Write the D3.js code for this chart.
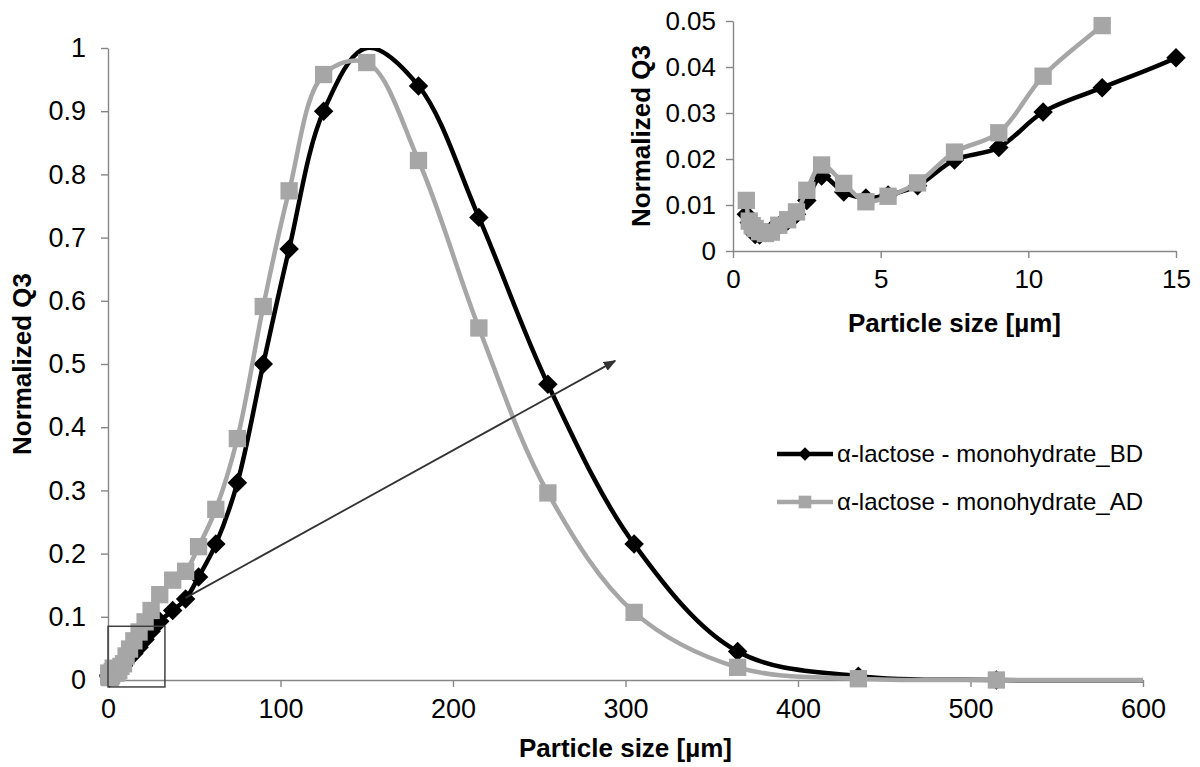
<!DOCTYPE html>
<html>
<head>
<meta charset="utf-8">
<script src="https://cdn.jsdelivr.net/npm/d3@7"></script>
<style>
  body { margin: 0; background: #fff; }
  svg text { font-family: "Liberation Sans", Arial, sans-serif; fill: #000; }
</style>
</head>
<body>
<div id="chart"></div>
<script>
// particle size classes [µm]
const sizes = [0.45, 0.55, 0.65, 0.75, 0.9, 1.1, 1.3, 1.55, 1.85, 2.15,
  2.5, 3.0, 3.75, 4.5, 5.25, 6.25, 7.5, 9, 10.5, 12.5,
  15, 18, 21.5, 25, 30, 37.5, 45, 52.5, 62.5, 75,
  90, 105, 125, 150, 180, 215, 255, 305, 365, 435, 515, 615];

// normalized Q3, before (BD) and after (AD)
const bd = [0.008, 0.0062, 0.005, 0.0036, 0.0035, 0.004, 0.0046, 0.0055, 0.0065, 0.008,
  0.011, 0.0163, 0.0128, 0.0115, 0.0122, 0.0142, 0.0198, 0.0225, 0.0302, 0.0355,
  0.042, 0.052, 0.064, 0.077, 0.093, 0.11, 0.128, 0.163, 0.215, 0.312,
  0.50, 0.682, 0.90, 1.0, 0.94, 0.732, 0.468, 0.215, 0.045, 0.006, 0.0, 0.0];
const ad = [0.011, 0.0065, 0.0055, 0.0049, 0.0042, 0.0038, 0.0041, 0.0056, 0.0068, 0.0085,
  0.0132, 0.0187, 0.0147, 0.0107, 0.0119, 0.0148, 0.0215, 0.0257, 0.038, 0.049,
  0.062, 0.076, 0.092, 0.11, 0.135, 0.158, 0.172, 0.211, 0.27, 0.382,
  0.591, 0.774, 0.958, 0.977, 0.822, 0.557, 0.296, 0.107, 0.02, 0.002, 0.0, 0.0];

const seriesNames = ["α-lactose - monohydrate_BD", "α-lactose - monohydrate_AD"];

const mainXTicks = [0, 100, 200, 300, 400, 500, 600];
const mainYTicks = [0, 0.1, 0.2, 0.3, 0.4, 0.5, 0.6, 0.7, 0.8, 0.9, 1];
const insetXTicks = [0, 5, 10, 15];
const insetYTicks = [0, 0.01, 0.02, 0.03, 0.04, 0.05];

// zoom box and arrow, in main-chart units
const zoomBox = [[0, 0.085], [33, -0.011]];
const arrowPts = [[45, 0.13], [294, 0.505]];

const width = 1200, height = 767;
const axisColor = "#868686";
const bdColor = "#000000", adColor = "#a6a6a6";

const svg = d3.select("#chart").append("svg")
  .attr("width", width)
  .attr("height", height);

const defs = svg.append("defs");
defs.append("marker")
  .attr("id", "arrowhead")
  .attr("viewBox", "0 0 10 10")
  .attr("refX", 9).attr("refY", 5)
  .attr("markerWidth", 7).attr("markerHeight", 7)
  .attr("markerUnits", "strokeWidth")
  .attr("orient", "auto")
  .append("path")
  .attr("d", "M0,1 L10,5 L0,9 Z")
  .attr("fill", "#333");

const series = [
  { name: seriesNames[0], values: bd, color: bdColor, shape: "diamond" },
  { name: seriesNames[1], values: ad, color: adColor, shape: "square" }
];

function markerPath(shape) {
  return shape === "diamond"
    ? d3.symbol(d3.symbolSquare, 190)()
    : d3.symbol(d3.symbolSquare, 300)();
}

function drawChart(g, opts) {
  const { x, y, xTicks, yTicks, yFmt, clipId, lineWidth } = opts;
  const [x0, x1] = x.range();
  const [y0, y1] = y.range();

  // axes
  const xAxis = d3.axisBottom(x).tickValues(xTicks).tickSizeInner(7).tickSizeOuter(0).tickPadding(opts.xPad);
  const yAxis = d3.axisLeft(y).tickValues(yTicks).tickSizeInner(7).tickSizeOuter(0).tickPadding(opts.yPad).tickFormat(yFmt);

  const gx = g.append("g").attr("transform", `translate(0,${y0})`).call(xAxis);
  const gy = g.append("g").attr("transform", `translate(${x0},0)`).call(yAxis);
  [gx, gy].forEach(a => {
    a.select(".domain").attr("stroke", axisColor).attr("stroke-width", 1.4);
    a.selectAll(".tick line").attr("stroke", axisColor).attr("stroke-width", 1.4);
    a.selectAll(".tick text").style("font-size", opts.tickFont + "px").attr("fill", "#000");
  });

  // clip for lines
  defs.append("clipPath").attr("id", clipId)
    .append("rect")
    .attr("x", x0 - 30).attr("y", y1)
    .attr("width", x1 - x0 + 30).attr("height", y0 - y1 + 30);

  const line = d3.line()
    .x((d, i) => x(sizes[i]))
    .y(d => y(d))
    .curve(d3.curveCatmullRom.alpha(0.5));

  const xMax = x.domain()[1], yMax = y.domain()[1];

  series.forEach(s => {
    g.append("path")
      .datum(s.values)
      .attr("clip-path", `url(#${clipId})`)
      .attr("fill", "none")
      .attr("stroke", s.color)
      .attr("stroke-width", lineWidth)
      .attr("stroke-linejoin", "round")
      .attr("d", line);

    // markers on the top edge or outside the plot are not drawn
    const pts = s.values.map((v, i) => ({ sx: sizes[i], v }))
      .filter(p => p.sx <= xMax && p.v < yMax);
    g.append("g").selectAll("path")
      .data(pts)
      .join("path")
      .attr("d", markerPath(s.shape))
      .attr("transform", p => `translate(${x(p.sx)},${y(p.v)})` + (s.shape === "diamond" ? " rotate(45)" : ""))
      .attr("fill", s.color);
  });

  // axis titles
  g.append("text")
    .attr("x", (x0 + x1) / 2).attr("y", opts.xTitleY)
    .attr("text-anchor", "middle")
    .style("font-size", "26px").style("font-weight", "bold")
    .text("Particle size [µm]");
  g.append("text")
    .attr("transform", `translate(${opts.yTitleX},${(y0 + y1) / 2}) rotate(-90)`)
    .attr("text-anchor", "middle")
    .style("font-size", "26px").style("font-weight", "bold")
    .text("Normalized Q3");
}

// main chart
const xMain = d3.scaleLinear().domain([0, 600]).range([108, 1143]);
const yMain = d3.scaleLinear().domain([0, 1]).range([680, 48]);
const gMain = svg.append("g");
drawChart(gMain, {
  x: xMain, y: yMain, xTicks: mainXTicks, yTicks: mainYTicks,
  yFmt: d3.format(".1~f"), clipId: "clipMain", lineWidth: 4.5,
  xPad: 12, yPad: 15, tickFont: 27, xTitleY: 757, yTitleX: 31
});

// legend
const legend = svg.append("g").attr("transform", "translate(777,454)");
series.forEach((s, i) => {
  const row = legend.append("g").attr("transform", `translate(0,${i * 48})`);
  row.append("line").attr("x1", 0).attr("x2", 56).attr("y1", 0).attr("y2", 0)
    .attr("stroke", s.color).attr("stroke-width", 4.5);
  row.append("path")
    .attr("d", s.shape === "diamond" ? d3.symbol(d3.symbolSquare, 90)() : d3.symbol(d3.symbolSquare, 160)())
    .attr("transform", "translate(28,0)" + (s.shape === "diamond" ? " rotate(45)" : ""))
    .attr("fill", s.color);
  row.append("text").attr("x", 60).attr("y", 0).attr("dy", "0.35em")
    .style("font-size", "24px")
    .text(s.name);
});

// zoom box + arrow
svg.append("rect")
  .attr("x", xMain(zoomBox[0][0])).attr("y", yMain(zoomBox[0][1]))
  .attr("width", xMain(zoomBox[1][0]) - xMain(zoomBox[0][0]))
  .attr("height", yMain(zoomBox[1][1]) - yMain(zoomBox[0][1]))
  .attr("fill", "none").attr("stroke", "#404040").attr("stroke-width", 1.5);

svg.append("line")
  .attr("x1", xMain(arrowPts[0][0])).attr("y1", yMain(arrowPts[0][1]))
  .attr("x2", xMain(arrowPts[1][0])).attr("y2", yMain(arrowPts[1][1]))
  .attr("stroke", "#333").attr("stroke-width", 1.8)
  .attr("marker-end", "url(#arrowhead)");

// inset chart
const xInset = d3.scaleLinear().domain([0, 15]).range([733, 1176]);
const yInset = d3.scaleLinear().domain([0, 0.05]).range([251, 21]);
const gInset = svg.append("g");
drawChart(gInset, {
  x: xInset, y: yInset, xTicks: insetXTicks, yTicks: insetYTicks,
  yFmt: d3.format(".2~f"), clipId: "clipInset", lineWidth: 4.5,
  xPad: 12, yPad: 10, tickFont: 26, xTitleY: 332, yTitleX: 650
});
</script>
</body>
</html>
